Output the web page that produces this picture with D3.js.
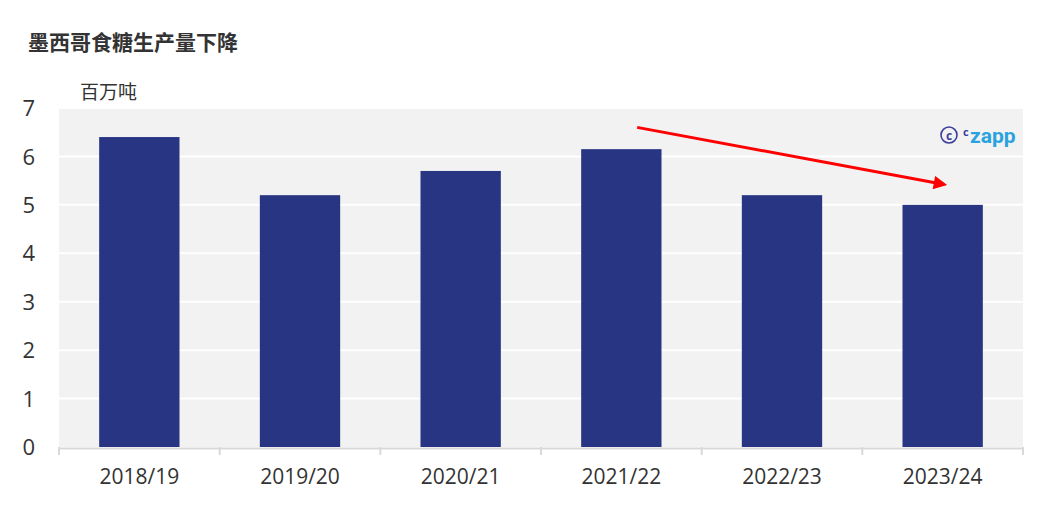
<!DOCTYPE html>
<html>
<head>
<meta charset="utf-8">
<script src="https://d3js.org/d3.v7.min.js"></script>
<style>
  body { margin: 0; background: #fff; }
  svg text { font-family: "Open Sans", "Noto Sans CJK SC", sans-serif; }
</style>
</head>
<body>
<script>
// data
var seasons = ["2018/19", "2019/20", "2020/21", "2021/22", "2022/23", "2023/24"];
var output = [6.4, 5.2, 5.7, 6.15, 5.2, 5.0];
var yTicks = [0, 1, 2, 3, 4, 5, 6, 7];

var width = 1052, height = 521;
var plotL = 59, plotR = 1023, plotT = 108, plotB = 447;

var svg = d3.select("body").append("svg")
  .attr("width", width)
  .attr("height", height);

var x = d3.scaleBand().domain(seasons).range([plotL, plotR]).paddingInner(0.5).paddingOuter(0.25);
var y = d3.scaleLinear().domain([0, 7]).range([plotB, plotT]);

svg.append("rect")
  .attr("x", plotL).attr("y", plotT)
  .attr("width", plotR - plotL).attr("height", plotB - plotT)
  .attr("fill", "#f2f2f2");

// gridlines
svg.selectAll(".grid")
  .data(yTicks.slice(1))
  .enter().append("line")
  .attr("x1", plotL).attr("x2", plotR)
  .attr("y1", function(d) { return y(d); })
  .attr("y2", function(d) { return y(d); })
  .attr("stroke", "#fff").attr("stroke-width", 2);

svg.selectAll(".bar")
  .data(output)
  .enter().append("rect")
  .attr("x", function(d, i) { return x(seasons[i]); })
  .attr("y", function(d) { return y(d); })
  .attr("width", x.bandwidth())
  .attr("height", function(d) { return plotB - y(d); })
  .attr("fill", "#283583");

// y labels
var yAxis = svg.append("g")
  .attr("transform", "translate(" + (plotL - 24) + ",0)")
  .call(d3.axisLeft(y).tickValues(yTicks).tickFormat(d3.format("d")).tickSize(0).tickPadding(0));
yAxis.select(".domain").remove();
yAxis.selectAll("text").attr("font-size", 22).attr("fill", "#333").attr("dy", "0.35em");

// x axis with category boundary ticks
var xb = svg.append("g");
xb.append("line")
  .attr("x1", plotL).attr("x2", plotR)
  .attr("y1", plotB + 1.5).attr("y2", plotB + 1.5)
  .attr("stroke", "#d9d9d9").attr("stroke-width", 2);
var bounds = seasons.map(function(s) { return x(s) - x.step() * x.paddingInner() / 2; });
bounds.push(plotR);
xb.selectAll(".tk")
  .data(bounds)
  .enter().append("line")
  .attr("x1", function(d) { return d; }).attr("x2", function(d) { return d; })
  .attr("y1", plotB).attr("y2", plotB + 8)
  .attr("stroke", "#d9d9d9").attr("stroke-width", 2);

var xAxis = svg.append("g")
  .attr("transform", "translate(0," + plotB + ")")
  .call(d3.axisBottom(x).tickSize(0).tickPadding(22));
xAxis.select(".domain").remove();
xAxis.selectAll("text").attr("font-size", 21).attr("fill", "#333").attr("dy", "0.71em");

// title and unit
svg.append("text")
  .attr("x", 28).attr("y", 50)
  .attr("font-size", 21).attr("font-weight", "bold")
  .style("font-family", "'Noto Sans CJK SC', sans-serif")
  .attr("fill", "#333")
  .text("墨西哥食糖生产量下降");

svg.append("text")
  .attr("x", 80).attr("y", 99)
  .attr("font-size", 19)
  .style("font-family", "'Noto Sans CJK SC', sans-serif")
  .attr("fill", "#333")
  .text("百万吨");

// trend arrow
var defs = svg.append("defs");
defs.append("marker")
  .attr("id", "head")
  .attr("viewBox", "0 0 10 10")
  .attr("refX", 8).attr("refY", 5)
  .attr("markerWidth", 6).attr("markerHeight", 4.5)
  .attr("markerUnits", "strokeWidth")
  .attr("orient", "auto")
  .append("path").attr("d", "M0,0 L10,5 L0,10 z").attr("fill", "#ff0000");

svg.append("line")
  .attr("x1", x("2021/22") + 56).attr("y1", y(6.6))
  .attr("x2", x("2023/24") + 42).attr("y2", y(5.42))
  .attr("stroke", "#ff0000").attr("stroke-width", 3)
  .attr("marker-end", "url(#head)");

// watermark
var wm = svg.append("g").attr("transform", "translate(941,142)");
wm.append("circle").attr("cx", 8).attr("cy", -7).attr("r", 8)
  .attr("fill", "none").attr("stroke", "#3b3f99").attr("stroke-width", 1.6);
wm.append("text").attr("x", 8).attr("y", -2.5).attr("text-anchor", "middle")
  .attr("font-size", 12).attr("font-weight", "bold").attr("fill", "#3b3f99").text("c");
wm.append("text").attr("x", 22).attr("y", -6)
  .attr("font-size", 11).attr("font-weight", "bold").attr("fill", "#3b3f99").text("c");
wm.append("text").attr("x", 29).attr("y", 1)
  .attr("font-size", 21).attr("font-weight", "bold").style("font-family", "Roboto, sans-serif")
  .attr("fill", "#29a3e0").text("zapp");
</script>
</body>
</html>
